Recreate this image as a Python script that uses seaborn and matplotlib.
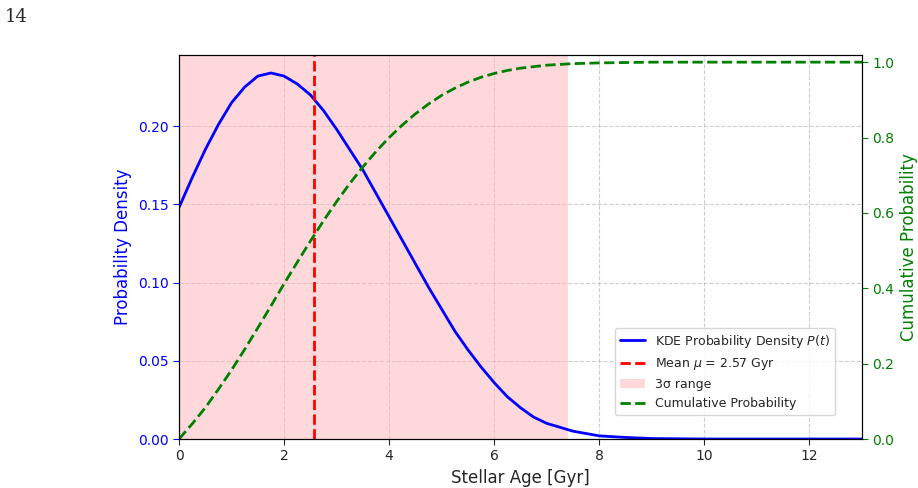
import matplotlib
matplotlib.use("Agg")
import matplotlib.pyplot as plt
import seaborn as sns
import pandas as pd

age = [0, 0.25, 0.5, 0.75, 1.0, 1.25, 1.5, 1.75, 2.0, 2.25, 2.5, 2.75, 3.0, 3.25, 3.5, 3.75, 4.0, 4.25, 4.5, 4.75,
       5.0, 5.25, 5.5, 5.75, 6.0, 6.25, 6.5, 6.75, 7.0, 7.5, 8.0, 8.5, 9.0, 10.0, 11.0, 12.0, 13.0]
density = [0.148, 0.167, 0.185, 0.201, 0.215, 0.225, 0.232, 0.234, 0.232, 0.227, 0.220, 0.210, 0.198, 0.185, 0.172, 0.157,
           0.142, 0.127, 0.112, 0.097, 0.083, 0.069, 0.057, 0.046, 0.036, 0.027, 0.020, 0.014, 0.010, 0.005, 0.002, 0.001,
           0.0003, 0.0, 0.0, 0.0, 0.0]
cumulative = [0.0, 0.040, 0.083, 0.132, 0.183, 0.238, 0.295, 0.353, 0.412, 0.469, 0.525, 0.579, 0.630, 0.678, 0.722, 0.763,
              0.800, 0.833, 0.863, 0.889, 0.912, 0.931, 0.947, 0.960, 0.970, 0.978, 0.984, 0.988, 0.992, 0.996, 0.998, 0.999,
              1.0, 1.0, 1.0, 1.0, 1.0]
mean_age = 2.57
range_lo, range_hi = 0.0, 7.4

df = pd.DataFrame({"age": age, "density": density, "cum": cumulative})

sns.set_style("ticks")
fig = plt.figure(figsize=(9.18, 4.88), dpi=100)
ax = fig.add_axes([0.195, 0.1004, 0.744, 0.7866])
fig.text(0.005, 0.955, "14", fontsize=13, family="DejaVu Serif")

ax.axvspan(range_lo, range_hi, color="#ffb3b8", alpha=0.5, lw=0, label="3σ range")
sns.lineplot(data=df, x="age", y="density", ax=ax, color="blue", lw=2, label="KDE Probability Density $P(t)$", legend=False)
ax.axvline(mean_age, color="red", ls="--", lw=2, label=r"Mean $\mu$ = 2.57 Gyr")
ax.set_xlim(0, 13)
ax.set_ylim(0, 0.2454)
ax.grid(True, ls="--", color="#b0b0b0", alpha=0.6)
ax.set_xlabel("Stellar Age [Gyr]", fontsize=12)
ax.set_ylabel("Probability Density", color="blue", fontsize=12)
ax.tick_params(axis="y", colors="blue", direction="out", length=4)
ax.tick_params(axis="x", direction="out", length=4)

ax2 = ax.twinx()
sns.lineplot(data=df, x="age", y="cum", ax=ax2, color="green", lw=2, ls="--", label="Cumulative Probability", legend=False)
ax2.set_ylim(0, 1.0186)
ax2.set_ylabel("Cumulative Probability", color="green", fontsize=12)
ax2.tick_params(axis="y", colors="green", direction="out", length=4)
for a in (ax, ax2):
    for s in a.spines.values():
        s.set_visible(True)
        s.set_color("black")

h1, l1 = ax.get_legend_handles_labels()
h2, l2 = ax2.get_legend_handles_labels()
order = [l1.index("KDE Probability Density $P(t)$"), l1.index(r"Mean $\mu$ = 2.57 Gyr"), l1.index("3σ range")]
ax2.legend([h1[i] for i in order] + h2, [l1[i] for i in order] + l2, loc="lower right", bbox_to_anchor=(0.97, 0.045), fontsize=9)
fig.savefig("out.png", dpi=100)
